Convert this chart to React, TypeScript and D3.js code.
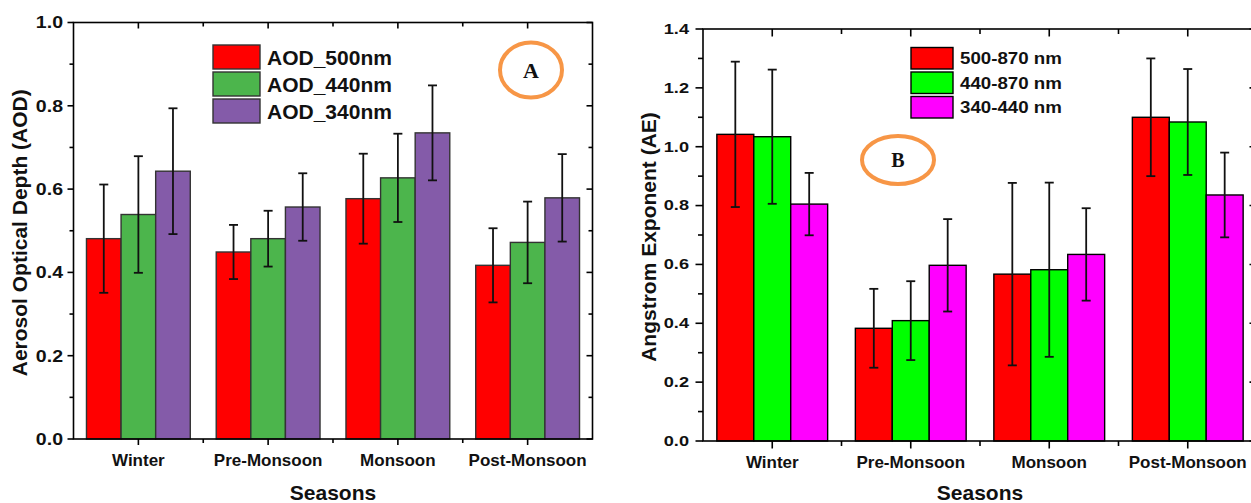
import React from "react";
import * as d3 from "d3";

const FONT = "'Liberation Sans', Arial, Helvetica, sans-serif";
const SERIF = "'Liberation Serif', 'Times New Roman', serif";

const seasons = ["Winter", "Pre-Monsoon", "Monsoon", "Post-Monsoon"];

// panel A: aerosol optical depth
const aodNames = ["AOD_500nm", "AOD_440nm", "AOD_340nm"];
const aod500 = [0.481, 0.449, 0.577, 0.417];
const aod440 = [0.539, 0.481, 0.627, 0.472];
const aod340 = [0.643, 0.557, 0.735, 0.579];
const aod500Sd = [0.13, 0.065, 0.108, 0.089];
const aod440Sd = [0.14, 0.067, 0.106, 0.098];
const aod340Sd = [0.151, 0.081, 0.114, 0.105];
const aodColors = ["#ff0000", "#4cb54c", "#845ba9"];

// panel B: angstrom exponent
const aeNames = ["500-870 nm", "440-870 nm", "340-440 nm"];
const ae500 = [1.042, 0.383, 0.567, 1.1];
const ae440 = [1.034, 0.409, 0.582, 1.084];
const ae340 = [0.805, 0.597, 0.634, 0.836];
const ae500Sd = [0.247, 0.134, 0.31, 0.2];
const ae440Sd = [0.228, 0.134, 0.296, 0.18];
const ae340Sd = [0.106, 0.157, 0.157, 0.144];
const aeColors = ["#ff0000", "#00ff00", "#ff00ff"];

type PanelProps = {
  left: number;
  right: number;
  top: number;
  bottom: number;
  yMax: number;
  values: number[][];
  errors: number[][];
  names: string[];
  colors: string[];
  barStroke: string;
  yTitle: string;
  yTitleX: number;
  tickFont: number;
  tickStretch: number;
  tickLabelX: number;
  majorLen: number;
  minorLen: number;
  xLabelY: number;
  legendX: number;
  legendY: number;
  legendW: number;
  legendH: number;
  legendPitch: number;
  legendFont: number;
  legendStretch: number;
  tag: string;
  tagX: number;
  tagY: number;
  tagRx: number;
  tagRy: number;
  tagFont: number;
};

function Panel(p: PanelProps) {
  const x = d3
    .scaleBand<string>()
    .domain(seasons)
    .range([p.left, p.right])
    .paddingInner(0.2)
    .paddingOuter(0.1);
  const xs = d3
    .scaleBand<number>()
    .domain(d3.range(p.values.length))
    .range([0, x.bandwidth()]);
  const y = d3.scaleLinear().domain([0, p.yMax]).range([p.bottom, p.top]);
  const major = y.ticks(Math.round(p.yMax / 0.2));
  const minor = d3.range(0.1, p.yMax, 0.2);
  const centers = seasons.map((s) => x(s)! + x.bandwidth() / 2);
  const between = centers.slice(1).map((c, i) => (c + centers[i]) / 2);
  const fmt = d3.format(".1f");

  return (
    <g>
      {p.values.map((series, si) =>
        series.map((v, i) => (
          <rect
            key={`b${si}-${i}`}
            x={x(seasons[i])! + xs(si)!}
            y={y(v)}
            width={xs.bandwidth()}
            height={y(0) - y(v)}
            fill={p.colors[si]}
            stroke={p.barStroke}
            strokeWidth={1.4}
          />
        ))
      )}
      {p.values.map((series, si) =>
        series.map((v, i) => {
          const cx = x(seasons[i])! + xs(si)! + xs.bandwidth() / 2;
          const hi = y(v + p.errors[si][i]);
          const lo = y(v - p.errors[si][i]);
          return (
            <g key={`e${si}-${i}`} stroke="#111" strokeWidth={1.8}>
              <line x1={cx} x2={cx} y1={hi} y2={lo} />
              <line x1={cx - 4.5} x2={cx + 4.5} y1={hi} y2={hi} />
              <line x1={cx - 4.5} x2={cx + 4.5} y1={lo} y2={lo} />
            </g>
          );
        })
      )}
      <rect
        x={p.left}
        y={p.top}
        width={p.right - p.left}
        height={p.bottom - p.top}
        fill="none"
        stroke="#000"
        strokeWidth={1.6}
      />
      <g stroke="#000" strokeWidth={1.6}>
        {major.map((t) => (
          <g key={`ym${t}`}>
            <line x1={p.left - p.majorLen} x2={p.left} y1={y(t)} y2={y(t)} />
            <line x1={p.right - p.majorLen} x2={p.right} y1={y(t)} y2={y(t)} />
          </g>
        ))}
        {minor.map((t) => (
          <g key={`yn${t}`}>
            <line x1={p.left - p.minorLen} x2={p.left} y1={y(t)} y2={y(t)} />
            <line x1={p.right - p.minorLen} x2={p.right} y1={y(t)} y2={y(t)} />
          </g>
        ))}
        {centers.map((c) => (
          <g key={`xm${c}`}>
            <line x1={c} x2={c} y1={p.bottom} y2={p.bottom + p.majorLen} />
            <line x1={c} x2={c} y1={p.top} y2={p.top + p.majorLen} />
          </g>
        ))}
        {between.map((c) => (
          <g key={`xn${c}`}>
            <line x1={c} x2={c} y1={p.bottom} y2={p.bottom + p.minorLen} />
            <line x1={c} x2={c} y1={p.top} y2={p.top + p.minorLen} />
          </g>
        ))}
      </g>
      <g fontFamily={FONT} fontWeight="bold" fill="#111">
        {major.map((t) => (
          <text
            key={`yl${t}`}
            transform={`translate(${p.tickLabelX},${y(t)}) scale(${p.tickStretch},1)`}
            textAnchor="end"
            dy="0.35em"
            fontSize={p.tickFont}
          >
            {fmt(t)}
          </text>
        ))}
        {seasons.map((s, i) => (
          <text key={s} x={centers[i]} y={p.xLabelY} textAnchor="middle" fontSize={17}>
            {s}
          </text>
        ))}
        <text
          x={(p.left + p.right) / 2}
          y={500}
          textAnchor="middle"
          fontSize={21}
        >
          Seasons
        </text>
        <text
          transform={`translate(${p.yTitleX},${(p.top + p.bottom) / 2 + 2}) rotate(-90)`}
          textAnchor="middle"
          fontSize={21}
        >
          {p.yTitle}
        </text>
      </g>
      <g>
        {p.names.map((n, i) => (
          <g key={n}>
            <rect
              x={p.legendX}
              y={p.legendY + i * p.legendPitch}
              width={p.legendW}
              height={p.legendH}
              fill={p.colors[i]}
              stroke={p.barStroke}
              strokeWidth={1.4}
            />
            <text
              transform={`translate(${p.legendX + p.legendW + 7},${
                p.legendY + i * p.legendPitch + p.legendH / 2
              }) scale(${p.legendStretch},1)`}
              dy="0.36em"
              fontFamily={FONT}
              fontWeight="bold"
              fontSize={p.legendFont}
              fill="#111"
            >
              {n}
            </text>
          </g>
        ))}
      </g>
      <ellipse
        cx={p.tagX}
        cy={p.tagY}
        rx={p.tagRx}
        ry={p.tagRy}
        fill="none"
        stroke="#f79646"
        strokeWidth={4}
      />
      <text
        x={p.tagX}
        y={p.tagY}
        dy="0.35em"
        textAnchor="middle"
        fontFamily={SERIF}
        fontWeight="bold"
        fontSize={p.tagFont}
        fill="#111"
      >
        {p.tag}
      </text>
    </g>
  );
}

export default function App() {
  return (
    <svg
      width={1251}
      height={503}
      style={{ position: "absolute", left: 0, top: 0, background: "#fff" }}
    >
      <Panel
        left={73.5}
        right={592.5}
        top={22.5}
        bottom={439}
        yMax={1.0}
        values={[aod500, aod440, aod340]}
        errors={[aod500Sd, aod440Sd, aod340Sd]}
        names={aodNames}
        colors={aodColors}
        barStroke="#333"
        yTitle="Aerosol Optical Depth (AOD)"
        yTitleX={27}
        tickFont={17}
        tickStretch={1.15}
        tickLabelX={63}
        majorLen={6}
        minorLen={4}
        xLabelY={466}
        legendX={213}
        legendY={45}
        legendW={47}
        legendH={24}
        legendPitch={27}
        legendFont={21}
        legendStretch={1}
        tag="A"
        tagX={531}
        tagY={70}
        tagRx={31}
        tagRy={27.5}
        tagFont={22}
      />
      <Panel
        left={703}
        right={1257}
        top={29}
        bottom={441}
        yMax={1.4}
        values={[ae500, ae440, ae340]}
        errors={[ae500Sd, ae440Sd, ae340Sd]}
        names={aeNames}
        colors={aeColors}
        barStroke="#000"
        yTitle="Angstrom Exponent (AE)"
        yTitleX={656}
        tickFont={14}
        tickStretch={1.3}
        tickLabelX={689}
        majorLen={7.5}
        minorLen={5}
        xLabelY={467.5}
        legendX={911}
        legendY={47.5}
        legendW={42}
        legendH={21.5}
        legendPitch={24.5}
        legendFont={17}
        legendStretch={1.1}
        tag="B"
        tagX={898}
        tagY={160}
        tagRx={36}
        tagRy={24}
        tagFont={20}
      />
    </svg>
  );
}
